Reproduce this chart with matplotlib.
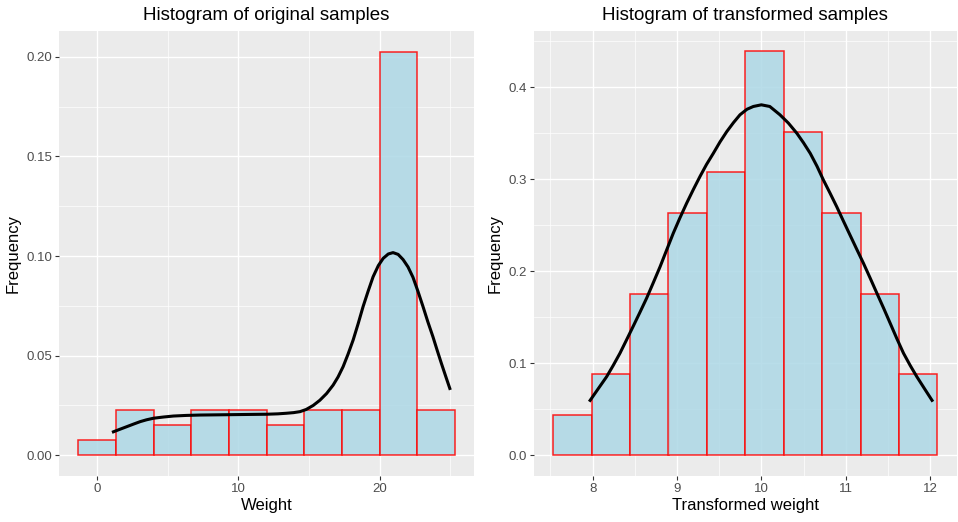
import numpy as np
import matplotlib.pyplot as plt
from matplotlib.ticker import MultipleLocator

plt.rcParams['font.family'] = ['Liberation Sans', 'DejaVu Sans']

# Left panel: histogram of original samples (density scale)
orig_centers = [0.0, 2.667, 5.333, 8.0, 10.667, 13.333, 16.0, 18.667, 21.333, 24.0]
orig_width = 2.667
orig_density = [0.0075, 0.0225, 0.015, 0.0225, 0.0225, 0.015, 0.0225, 0.0225, 0.2025, 0.0225]

orig_curve_x = [1.06, 1.6, 2.12, 2.6, 3.06, 3.5, 4.0, 4.7, 5.41, 6.3, 7.29, 8.5, 9.64,
                10.8, 12.0, 12.8, 13.41, 13.9, 14.36, 14.8, 15.29, 15.76, 16.24, 16.70,
                17.05, 17.41, 17.76, 18.12, 18.47, 18.82, 19.18, 19.53, 19.9, 20.24,
                20.6, 20.94, 21.3, 21.65, 22.0, 22.35, 22.7, 23.06, 23.4, 23.76, 24.06,
                24.36, 24.68, 24.99]
orig_curve_y = [0.0115, 0.0130, 0.0144, 0.0157, 0.0169, 0.0178, 0.0186, 0.0192, 0.0197,
                0.0200, 0.0202, 0.0203, 0.0204, 0.0205, 0.0206, 0.0208, 0.0211, 0.0214,
                0.0219, 0.0230, 0.0250, 0.0276, 0.0310, 0.0352, 0.0393, 0.0445, 0.0508,
                0.0579, 0.0660, 0.0746, 0.0824, 0.0896, 0.0952, 0.0988, 0.1010, 0.1017,
                0.1008, 0.0982, 0.0945, 0.0893, 0.0823, 0.0746, 0.0670, 0.0595, 0.0527,
                0.0461, 0.0393, 0.0328]

# Right panel: histogram of transformed samples
trans_centers = [7.761, 8.216, 8.672, 9.127, 9.583, 10.038, 10.494, 10.949, 11.405, 11.860]
trans_width = 0.4554
trans_density = [0.0439, 0.0878, 0.1757, 0.2635, 0.3074, 0.4392, 0.3514, 0.2635, 0.1757, 0.0878]

trans_curve_x = [7.96, 8.06, 8.166, 8.245, 8.324, 8.40, 8.48, 8.56, 8.64, 8.72, 8.80,
                 8.878, 8.956, 9.035, 9.115, 9.195, 9.273, 9.35, 9.43, 9.51, 9.59,
                 9.67, 9.747, 9.83, 9.905, 10.0, 10.1, 10.22, 10.32, 10.42, 10.50,
                 10.58, 10.66, 10.735, 10.815, 10.894, 10.97, 11.05, 11.13, 11.21,
                 11.29, 11.37, 11.45, 11.527, 11.605, 11.685, 11.765, 11.843, 11.94,
                 12.033]
trans_curve_y = [0.0583, 0.0715, 0.0854, 0.0978, 0.1109, 0.1250, 0.140, 0.1552, 0.1707,
                 0.1877, 0.205, 0.2232, 0.2413, 0.2580, 0.274, 0.2890, 0.303, 0.3160,
                 0.328, 0.3405, 0.3517, 0.3615, 0.370, 0.3760, 0.379, 0.3808, 0.3790,
                 0.370, 0.3610, 0.350, 0.3395, 0.328, 0.3140, 0.2992, 0.2847, 0.270,
                 0.2550, 0.2395, 0.2240, 0.2087, 0.1925, 0.176, 0.1597, 0.1435, 0.1270,
                 0.1109, 0.0975, 0.0854, 0.0715, 0.0583]

fill = '#ADD8E6'


def style_axes(ax, xmajor, xminor, ymajor, yminor):
    ax.set_facecolor('#EBEBEB')
    for s in ax.spines.values():
        s.set_visible(False)
    ax.xaxis.set_major_locator(MultipleLocator(xmajor))
    ax.xaxis.set_minor_locator(MultipleLocator(xminor))
    ax.yaxis.set_major_locator(MultipleLocator(ymajor))
    ax.yaxis.set_minor_locator(MultipleLocator(yminor))
    ax.grid(which='major', color='white', linewidth=1.0)
    ax.grid(which='minor', color='white', linewidth=0.5)
    ax.set_axisbelow(True)
    ax.tick_params(which='major', length=3, width=0.8, color='#333333',
                   labelsize=9.5, labelcolor='#4D4D4D', pad=2)
    ax.tick_params(which='minor', length=0)


fig = plt.figure(figsize=(9.58, 5.22), dpi=100)
ax1 = fig.add_axes([0.0619, 0.0881, 0.4329, 0.8525])
ax2 = fig.add_axes([0.5574, 0.0881, 0.4412, 0.8525])

ax1.bar(orig_centers, orig_density, width=orig_width, color=fill, alpha=0.85,
        edgecolor='red', linewidth=1.1, zorder=2)
ax1.plot(orig_curve_x, orig_curve_y, color='black', linewidth=2.2,
         solid_joinstyle='round', solid_capstyle='butt', zorder=3)
style_axes(ax1, 10, 5, 0.05, 0.025)
ax1.set_xlim(-2.667, 26.667)
ax1.set_ylim(-0.0104, 0.2129)
ax1.yaxis.set_major_formatter(lambda v, p: '{:.2f}'.format(v))
ax1.set_title('Histogram of original samples', fontsize=13.5, pad=8)
ax1.set_xlabel('Weight', fontsize=12, labelpad=2)
ax1.set_ylabel('Frequency', fontsize=12, labelpad=4)

ax2.bar(trans_centers, trans_density, width=trans_width, color=fill, alpha=0.85,
        edgecolor='red', linewidth=1.1, zorder=2)
ax2.plot(trans_curve_x, trans_curve_y, color='black', linewidth=2.2,
         solid_joinstyle='round', solid_capstyle='butt', zorder=3)
style_axes(ax2, 1, 0.5, 0.1, 0.05)
ax2.set_xlim(7.305, 12.315)
ax2.set_ylim(-0.0225, 0.461)
ax2.yaxis.set_major_formatter(lambda v, p: '{:.1f}'.format(v))
ax2.set_title('Histogram of transformed samples', fontsize=13.5, pad=8)
ax2.set_xlabel('Transformed weight', fontsize=12, labelpad=2)
ax2.set_ylabel('Frequency', fontsize=12, labelpad=4)

plt.savefig('out.png', dpi=100)
